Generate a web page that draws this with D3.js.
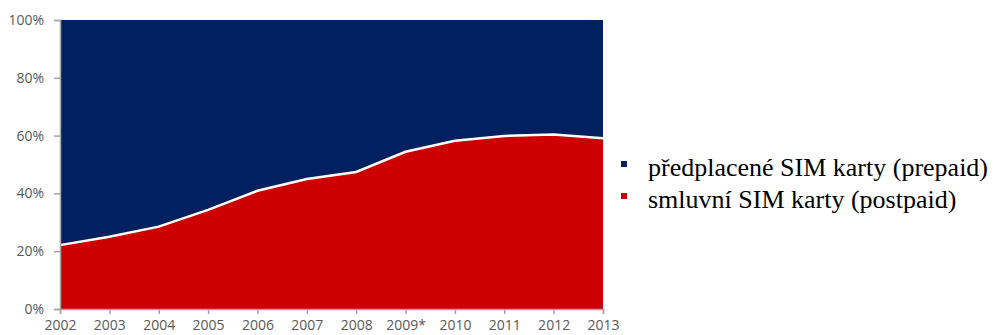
<!DOCTYPE html>
<html><head><meta charset="utf-8">
<script src="https://cdn.jsdelivr.net/npm/d3@7"></script>
<style>body{margin:0;background:#fff}svg{display:block}</style>
</head><body><svg id="c" width="999" height="335"></svg>
<script>
const years = ["2002","2003","2004","2005","2006","2007","2008","2009*","2010","2011","2012","2013"];
const postpaid = [22.1,25.0,28.5,34.3,40.9,45.0,47.4,54.4,58.2,59.9,60.4,59.1];
const prepaid = postpaid.map(v => 100 - v);
const yTicks = [0,20,40,60,80,100];
const legendLabels = ["předplacené SIM karty (prepaid)","smluvní SIM karty (postpaid)"];
const colors = ["#002060","#cc0000"];

const svg = d3.select("#c");
const x = d3.scalePoint().domain(years).range([60,603]);
const y = d3.scaleLinear().domain([0,100]).range([309,20]);

const data = years.map((yr,i)=>({yr, post: postpaid[i], pre: prepaid[i]}));
svg.append("path").datum(data)
  .attr("fill",colors[0])
  .attr("d", d3.area().x(d=>x(d.yr)).y0(d=>y(d.post)).y1(d=>y(d.post+d.pre)));
svg.append("path").datum(data)
  .attr("fill",colors[1])
  .attr("d", d3.area().x(d=>x(d.yr)).y0(y(0)).y1(d=>y(d.post)));
svg.append("path").datum(data)
  .attr("fill","none").attr("stroke","#fff").attr("stroke-width",2.5)
  .attr("d", d3.line().x(d=>x(d.yr)).y(d=>y(d.post)));

const font = "'Open Sans', 'Liberation Sans', sans-serif";
const gy = svg.append("g").attr("transform","translate(60,0)")
  .call(d3.axisLeft(y).tickValues(yTicks).tickFormat(d=>d+"%").tickSize(6).tickPadding(10));
const gx = svg.append("g").attr("transform","translate(0,309)")
  .call(d3.axisBottom(x).tickSize(5).tickPadding(6));
[gy,gx].forEach(g=>{
  g.select(".domain").attr("stroke","#a6a6a6").attr("stroke-width",1.5);
  g.selectAll(".tick line").attr("stroke","#a6a6a6").attr("stroke-width",1.5);
  g.selectAll("text").attr("fill","#595959").style("font-family",font).style("font-size","14px");
});

const lg = svg.append("g");
legendLabels.forEach((t,i)=>{
  const base = 176 + i*32;
  lg.append("rect").attr("x",621).attr("y",base-15).attr("width",6).attr("height",6).attr("fill",colors[i]);
  lg.append("text").attr("x",648).attr("y",base).text(t)
    .style("font-family","'Liberation Serif', 'Times New Roman', serif").style("font-size","26px").attr("fill","#000");
});
</script></body></html>
